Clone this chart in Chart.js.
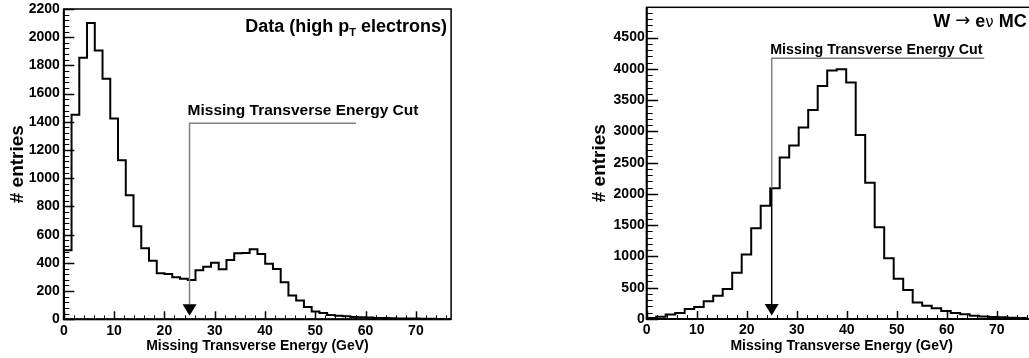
<!DOCTYPE html>
<html><head><meta charset="utf-8">
<script src="https://cdn.jsdelivr.net/npm/chart.js@4.4.1/dist/chart.umd.min.js"></script>
<style>
html,body{margin:0;padding:0;background:#fff;overflow:hidden;width:1029px;height:358px;}
#wrap{position:relative;width:1029px;height:358px;overflow:hidden;background:#fff;}
#c1{position:absolute;left:0;top:0;}
#c2{position:absolute;left:570px;top:0;}
</style></head><body>
<div id="wrap"><canvas id="c1" width="470" height="358"></canvas><canvas id="c2" width="480" height="358"></canvas></div>
<script>
// ---- Data histogram (high pT electrons): 50 bins from 0 to 77 GeV
const dataRange = [0, 77];
const dataCounts = [490, 1450, 1855, 2100, 1905, 1706, 1423, 1128, 879, 660,
                    503, 416, 326, 321, 298, 288, 279, 347, 373, 401,
                    355, 421, 468, 470, 497, 463, 394, 357, 262, 168,
                    134, 88, 56, 45, 31, 26, 21, 16, 14, 12,
                    10, 9, 7, 6, 5, 5, 4, 4, 3, 3];
// ---- W -> e nu MC histogram: 40 bins from 0 to 76 GeV
const mcRange = [0, 76];
const mcCounts = [15, 37, 72, 96, 160, 192, 285, 370, 478, 741,
                  1030, 1451, 1810, 2091, 2581, 2773, 3061, 3344, 3728, 3973,
                  3995, 3781, 2944, 2181, 1467, 971, 642, 464, 264, 213,
                  171, 128, 96, 75, 50, 40, 32, 26, 20, 15];
// ---- tick labels
const xTickLabels = [0, 10, 20, 30, 40, 50, 60, 70];
const dataYTickLabels = [0, 200, 400, 600, 800, 1000, 1200, 1400, 1600, 1800, 2000, 2200];
const mcYTickLabels = [0, 500, 1000, 1500, 2000, 2500, 3000, 3500, 4000, 4500];
// ---- text
const xTitle = 'Missing Transverse Energy (GeV)';
const yTitle = '# entries';
const cutLabel = 'Missing Transverse Energy Cut';
const cutValue = 25;

const FONT = '"Liberation Sans", Arial, Helvetica, sans-serif';
const SYM = '"DejaVu Sans", sans-serif';

function stepPoints(range, counts) {
  const w = (range[1] - range[0]) / counts.length;
  const pts = [{x: range[0], y: 0}];
  counts.forEach((c, i) => pts.push({x: range[0] + i * w, y: c}));
  pts.push({x: range[0] + counts.length * w, y: counts[counts.length - 1]});
  return pts;
}

const rootStyle = {
  id: 'rootStyle',
  afterDatasetsDraw(chart, args, o) {
    const ctx = chart.ctx, xs = chart.scales.x, ys = chart.scales.y, a = chart.chartArea;
    ctx.save();
    ctx.strokeStyle = '#000';
    ctx.lineWidth = 1;
    // y ticks (inward)
    const nY = Math.floor((ys.max - ys.min) / o.yMinor + 1e-6);
    for (let i = 0; i <= nY; i++) {
      const v = ys.min + i * o.yMinor;
      const major = (v % o.yMajor) === 0;
      const y = Math.round(ys.getPixelForValue(v)) + 0.5;
      ctx.lineWidth = major ? 1.5 : 1;
      ctx.beginPath(); ctx.moveTo(a.left, y); ctx.lineTo(a.left + (major ? o.yMajorLen : o.yMinorLen), y); ctx.stroke();
    }
    // x ticks (inward)
    const nX = Math.floor((xs.max - xs.min) / o.xMinor + 1e-6);
    for (let i = 0; i <= nX; i++) {
      const v = xs.min + i * o.xMinor;
      const major = (v % o.xMajor) === 0;
      const x = Math.round(xs.getPixelForValue(v)) + 0.5;
      ctx.lineWidth = major ? 1.5 : 1;
      ctx.beginPath(); ctx.moveTo(x, a.bottom); ctx.lineTo(x, a.bottom - (major ? o.xMajorLen : o.xMinorLen)); ctx.stroke();
    }
    // frame
    ctx.lineWidth = 1.5;
    ctx.strokeRect(a.left, a.top, a.right - a.left, a.bottom - a.top);
    ctx.lineWidth = 2;
    ctx.beginPath(); ctx.moveTo(a.left, a.top); ctx.lineTo(a.left, a.bottom); ctx.lineTo(a.right, a.bottom); ctx.stroke();

    // cut annotation
    const c = o.cut;
    const cx = xs.getPixelForValue(cutValue);
    const ly = ys.getPixelForValue(c.lineY);
    const lx2 = xs.getPixelForValue(c.lineX2);
    const y0 = ys.getPixelForValue(0);
    const triTop = y0 - 15, triTip = y0 - 3.6;
    ctx.lineCap = 'butt';
    ctx.strokeStyle = '#808080';
    ctx.lineWidth = 1.5;
    const grayEnd = c.blackFrom != null ? ys.getPixelForValue(c.blackFrom) : triTop;
    ctx.beginPath(); ctx.moveTo(lx2, ly); ctx.lineTo(cx, ly); ctx.lineTo(cx, grayEnd); ctx.stroke();
    if (c.blackFrom != null) {
      ctx.strokeStyle = '#000';
      ctx.beginPath(); ctx.moveTo(cx, grayEnd); ctx.lineTo(cx, triTop); ctx.stroke();
    }
    ctx.fillStyle = '#000';
    ctx.beginPath(); ctx.moveTo(cx - 7, triTop); ctx.lineTo(cx + 7, triTop); ctx.lineTo(cx, triTip); ctx.closePath(); ctx.fill();
    ctx.font = 'bold ' + c.size + 'px ' + FONT;
    ctx.textAlign = 'left'; ctx.textBaseline = 'alphabetic';
    ctx.fillText(cutLabel, cx + c.dx, ly - c.gap);

    // title (right aligned, with optional subscript / symbol parts)
    const t = o.title;
    const fontOf = p => (p.weight || 'bold') + ' ' + p.size + 'px ' + (p.family || FONT);
    let total = 0;
    t.parts.forEach(p => { ctx.font = fontOf(p); p.w = ctx.measureText(p.text).width; total += p.w; });
    let tx = a.right - t.dr - total;
    const ty = a.top + t.dy;
    t.parts.forEach(p => { ctx.font = fontOf(p); ctx.fillText(p.text, tx, ty + (p.dy || 0)); tx += p.w; });
    ctx.restore();
  }
};

function makeChart(id, cfg) {
  return new Chart(document.getElementById(id), {
    type: 'line',
    data: { datasets: [{
      data: stepPoints(cfg.range, cfg.counts),
      stepped: true,
      borderColor: '#000', borderWidth: 2, pointRadius: 0, fill: false,
      borderJoinStyle: 'miter', borderCapStyle: 'butt'
    }]},
    options: {
      responsive: false, animation: false, devicePixelRatio: 1,
      layout: { padding: cfg.padding },
      plugins: { legend: {display: false}, tooltip: {enabled: false}, rootStyle: cfg.style },
      scales: {
        x: {
          type: 'linear', min: cfg.xMax[0], max: cfg.xMax[1],
          grid: {display: false, drawTicks: false, tickLength: 0}, border: {display: false},
          afterBuildTicks: s => { s.ticks = xTickLabels.map(v => ({value: v})); },
          afterFit: s => { s.height = cfg.xHeight; s.paddingLeft = 0; s.paddingRight = 0; },
          ticks: { color: '#000', font: {family: FONT, size: 14, weight: 'bold'}, padding: cfg.xTickPad, maxRotation: 0, autoSkip: false, callback: v => String(v) },
          title: { display: true, text: xTitle, color: '#000', font: {family: FONT, size: 14, weight: 'bold'}, padding: {top: 0, bottom: cfg.xTitlePad} }
        },
        y: {
          type: 'linear', min: 0, max: cfg.yMax,
          grid: {display: false, drawTicks: false, tickLength: 0}, border: {display: false},
          afterBuildTicks: s => { s.ticks = cfg.yTicks.map(v => ({value: v})); },
          afterFit: s => { s.width = cfg.yWidth; s.paddingTop = 0; s.paddingBottom = 0; },
          ticks: { color: '#000', font: {family: FONT, size: 14, weight: 'bold'}, padding: cfg.yTickPad, autoSkip: false, callback: v => String(v) },
          title: { display: true, text: yTitle, color: '#000', font: {family: FONT, size: 19, weight: 'bold'}, padding: {top: cfg.yTitlePad, bottom: 0} }
        }
      }
    },
    plugins: [rootStyle]
  });
}

makeChart('c1', {
  range: dataRange, counts: dataCounts, xMax: [0, 77], yMax: 2200, yTicks: dataYTickLabels,
  padding: {left: 0, top: 9, right: 18.9, bottom: 0},
  xHeight: 38.7, yWidth: 63.8, xTickPad: 3, yTickPad: 4, xTitlePad: 3, yTitlePad: 6.1,
  style: {
    yMajor: 200, yMinor: 40, yMajorLen: 10.5, yMinorLen: 5.5,
    xMajor: 10, xMinor: 2, xMajorLen: 8, xMinorLen: 4,
    cut: {lineY: 1390, lineX2: 58.1, size: 15.5, dx: -2, gap: 8.3, blackFrom: null},
    title: {dr: 4.1, dy: 22.7, parts: [
      {text: 'Data (high p', size: 18},
      {text: 'T', size: 11, dy: 4},
      {text: ' electrons)', size: 18}
    ]}
  }
});

makeChart('c2', {
  range: mcRange, counts: mcCounts, xMax: [0, 78], yMax: 4985, yTicks: mcYTickLabels,
  padding: {left: 0, top: 7.3, right: 13.3, bottom: 0},
  xHeight: 39, yWidth: 76.7, xTickPad: 3, yTickPad: 2, xTitlePad: 3, yTitlePad: 18.6,
  style: {
    yMajor: 500, yMinor: 100, yMajorLen: 11.5, yMinorLen: 6,
    xMajor: 10, xMinor: 2, xMajorLen: 8, xMinorLen: 4,
    cut: {lineY: 4171, lineX2: 67.5, size: 14.25, dx: -1.5, gap: 4.3, blackFrom: 2091},
    title: {dr: 10, dy: 19.4, parts: [
      {text: 'W ', size: 18},
      {text: '\u2192', size: 18, family: SYM, weight: 'normal', dy: -1},
      {text: ' e', size: 18},
      {text: '\u03BD', size: 15, family: SYM, weight: 'normal'},
      {text: ' MC', size: 18}
    ]}
  }
});
</script>
</body></html>
